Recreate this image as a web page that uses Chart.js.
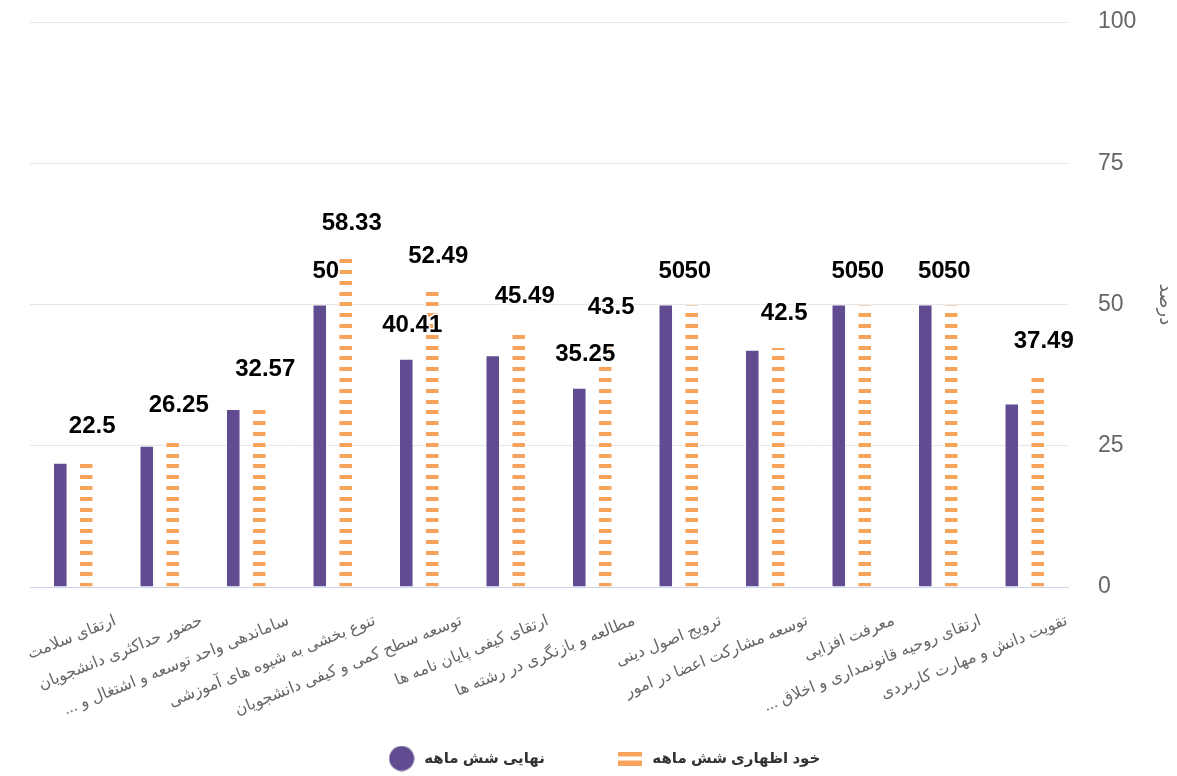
<!DOCTYPE html>
<html>
<head>
<meta charset="utf-8">
<script src="https://cdn.jsdelivr.net/npm/chart.js@4.4.0/dist/chart.umd.min.js"></script>
<style>
  html, body { margin: 0; padding: 0; background: #fff; }
  #wrap { width: 1177px; height: 776px; }
</style>
</head>
<body>
<div id="wrap"><canvas id="chart"></canvas></div>
<script>
// RLM after the trailing dots keeps them on the left side of the rtl text
const categories = [
    'ارتقای سلامت',
    'حضور حداکثری دانشجویان',
    'ساماندهی واحد توسعه و اشتغال و ...\u200F',
    'تنوع بخشی به شیوه های آموزشی',
    'توسعه سطح کمی و کیفی دانشجویان',
    'ارتقای کیفی پایان نامه ها',
    'مطالعه و بازنگری در رشته ها',
    'ترویج اصول دینی',
    'توسعه مشارکت اعضا در امور',
    'معرفت افزایی',
    'ارتقای روحیه قانونمداری و اخلاق ...\u200F',
    'تقویت دانش و مهارت کاربردی'
];
const seriesNames = ['نهایی شش ماهه', 'خود اظهاری شش ماهه'];
const finalValues = [22, 25, 31.5, 50, 40.41, 41, 35.25, 50, 42, 50, 50, 32.5];
const selfValues = [22.5, 26.25, 32.57, 58.33, 52.49, 45.49, 43.5, 50, 42.5, 50, 50, 37.49];
const yTicks = [0, 25, 50, 75, 100];
const yTitle = 'درصد';

const PURPLE = '#614c91';
const ORANGE = '#f7a35c';
const FONT = "'Liberation Sans', 'DejaVu Sans', sans-serif";

Chart.defaults.font.family = FONT;
Chart.defaults.color = '#666';

const canvas = document.getElementById('chart');
const ctx = canvas.getContext('2d');

// orange bars are filled with horizontal dashes
const makeDashPattern = () => {
    const c = document.createElement('canvas');
    c.width = 20; c.height = 54;
    const g = c.getContext('2d');
    g.fillStyle = '#fff';
    g.fillRect(0, 0, 20, 54);
    g.fillStyle = ORANGE;
    for (let i = 0; i < 5; i++) g.fillRect(0, Math.round(i * 10.8), 20, 4);
    return ctx.createPattern(c, 'repeat');
};

const makeCircleIcon = () => {
    const c = document.createElement('canvas');
    c.width = 26; c.height = 26;
    const g = c.getContext('2d');
    g.fillStyle = PURPLE;
    g.beginPath();
    g.arc(13, 13, 12.5, 0, Math.PI * 2);
    g.fill();
    return c;
};

const makeDashIcon = () => {
    const c = document.createElement('canvas');
    c.width = 24; c.height = 14;
    const g = c.getContext('2d');
    g.fillStyle = ORANGE;
    g.fillRect(0, 0, 24, 5);
    g.fillRect(0, 9, 24, 5);
    return c;
};

const legendIcons = [makeCircleIcon(), makeDashIcon()];

// value labels above bars, the purple ones hidden when they collide
const valueLabels = {
    id: 'valueLabels',
    afterDatasetsDraw(chart) {
        const c = chart.ctx;
        c.save();
        c.font = 'bold 24px ' + FONT;
        c.textAlign = 'center';
        c.textBaseline = 'alphabetic';
        c.lineJoin = 'round';
        const boxes = [];
        [1, 0].forEach((di) => {
            const meta = chart.getDatasetMeta(di);
            const data = chart.data.datasets[di].data;
            meta.data.forEach((bar, i) => {
                const text = String(data[i]);
                const w = c.measureText(text).width;
                const x = bar.x + 6;
                const y = bar.y - 27;
                const box = { l: x - w / 2 + 2, r: x + w / 2 - 2, t: y - 24, b: y + 6 };
                const hit = boxes.some((o) => box.l < o.r && box.r > o.l && box.t < o.b && box.b > o.t);
                if (hit) return;
                boxes.push(box);
                c.strokeStyle = '#fff';
                c.lineWidth = 3;
                c.strokeText(text, x, y);
                c.fillStyle = '#000';
                c.fillText(text, x, y);
            });
        });
        c.restore();
    }
};

new Chart(canvas, {
    type: 'bar',
    data: {
        labels: categories,
        datasets: [
            {
                label: seriesNames[0],
                data: finalValues,
                backgroundColor: PURPLE,
                borderColor: 'rgba(255,255,255,0.5)',
                borderWidth: 1,
                categoryPercentage: 0.6,
                barPercentage: 0.56,
            },
            {
                label: seriesNames[1],
                data: selfValues,
                backgroundColor: makeDashPattern(),
                borderColor: '#fff',
                borderWidth: 1,
                categoryPercentage: 0.6,
                barPercentage: 0.56,
            },
        ],
    },
    options: {
        responsive: true,
        maintainAspectRatio: false,
        animation: false,
        devicePixelRatio: 1,
        layout: { padding: { top: 22, left: 30, right: 0, bottom: 0 } },
        scales: {
            x: {
                grid: { display: false, drawTicks: false },
                border: { color: '#ccd6eb', width: 1 },
                ticks: {
                    autoSkip: false,
                    minRotation: 22,
                    maxRotation: 22,
                    labelOffset: 42,
                    padding: 24,
                    color: '#666',
                    font: { size: 16 },
                },
                afterFit: (s) => {
                    s.height = 94;
                    s.paddingLeft = 0;
                    s.paddingRight = 0;
                    // long rotated labels run below the axis box, don't clip them
                    s._computeLabelArea = () => undefined;
                },
            },
            y: {
                position: 'right',
                min: 0,
                max: 100,
                grid: { color: '#e6e6e6', drawTicks: false },
                border: { display: false },
                afterBuildTicks: (s) => {
                    s.ticks = yTicks.map((v) => ({ value: v }));
                },
                ticks: {
                    padding: 30,
                    color: '#666',
                    font: { size: 23 },
                },
                title: {
                    display: true,
                    text: yTitle,
                    color: '#666',
                    font: { size: 18 },
                    padding: { top: 1, bottom: 0 },
                },
                afterFit: (s) => {
                    s.width = 109;
                    s.paddingTop = 0;
                    s.paddingBottom = 0;
                },
            },
        },
        plugins: {
            tooltip: { enabled: false },
            legend: {
                position: 'bottom',
                labels: {
                    usePointStyle: true,
                    boxWidth: 30,
                    pointStyleWidth: 30,
                    padding: 70,
                    color: '#333',
                    font: { size: 15, weight: 'bold' },
                    generateLabels: (chart) => {
                        const items = Chart.defaults.plugins.legend.labels.generateLabels(chart);
                        items.forEach((it, i) => {
                            it.pointStyle = legendIcons[i];
                            it.fontColor = '#333';
                        });
                        return items;
                    },
                },
            },
        },
    },
    plugins: [valueLabels],
});
</script>
</body>
</html>
